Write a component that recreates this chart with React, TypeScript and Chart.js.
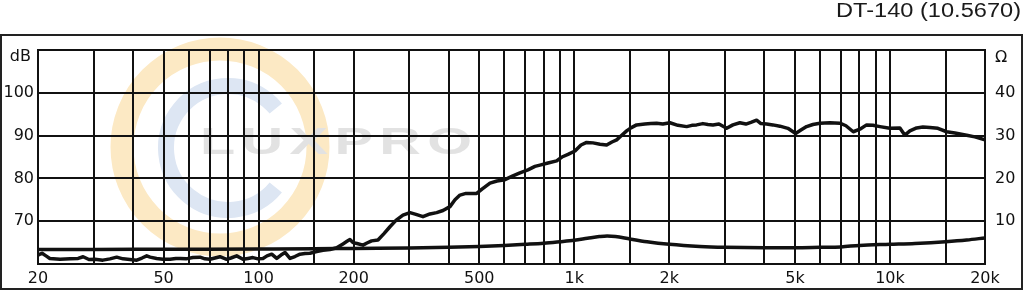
import React, { useEffect, useRef } from "react";
import { Chart, registerables } from "chart.js";

Chart.register(...registerables);

const TITLE = "DT-140 (10.5670)";
const LEFT_UNIT = "dB";
const RIGHT_UNIT = "Ω";
const WATERMARK = "LUXPRO";

const freqGrid = [20, 30, 40, 50, 60, 70, 80, 90, 100, 150, 200, 300, 400, 500, 600, 700, 800, 900, 1000, 1500, 2000, 3000, 4000, 5000, 6000, 7000, 8000, 9000, 10000, 15000, 20000];
const xTickValues = [20, 50, 100, 200, 500, 1000, 2000, 5000, 10000, 20000];
const xTickLabels = ["20", "50", "100", "200", "500", "1k", "2k", "5k", "10k", "20k"];
const dbTickValues = [70, 80, 90, 100];
const ohmTickValues = [10, 20, 30, 40];

const splFreq = [20, 20.3, 20.6, 21.2, 21.8, 23.5, 25.3, 26.8, 27.8, 29.0,
  30.3, 32.1, 33.8, 35.5, 37.2, 39.1, 41.1, 42.7, 44.2, 45.3,
  47.5, 49.8, 52.4, 54.7, 56.4, 58.9, 61.9, 65.2, 67.6, 70.1,
  72.7, 75.4, 79.2, 81.7, 85.2, 89.2, 92.5, 95.9, 99.5, 103.2,
  106.3, 110, 114.1, 117.7, 121.2, 125.7, 130.3, 135.2, 140.2, 145.4,
  152.7, 159.9, 168.3, 176.7, 185, 190.5, 194.6, 199, 204.9, 214,
  220.4, 228, 238.8, 249.5, 260.6, 272.3, 286.5, 301.6, 315.1, 331.6,
  348.9, 366.4, 383.7, 403.7, 418.8, 434.3, 453.8, 474.1, 490.6, 509.9,
  540.6, 568.9, 602.8, 639.1, 672.7, 713.1, 750.5, 778.4, 825.2, 879.3,
  913.9, 955, 1005, 1050, 1094, 1146, 1206, 1266, 1316, 1362,
  1405, 1465, 1511, 1575, 1673, 1748, 1823, 1908, 2009, 2129,
  2269, 2358, 2440, 2555, 2650, 2749, 2872, 3038, 3180, 3346,
  3496, 3626, 3780, 3901, 4066, 4257, 4480, 4750, 5024, 5222,
  5443, 5700, 5999, 6453, 6942, 7253, 7649, 8031, 8432, 8829,
  9292, 9987, 10750, 11150, 11565, 12143, 12715, 13380, 14185, 15120,
  16058, 17494, 18580, 20000];

const splDb = [62.1, 62.3, 62.5, 61.9, 61.3, 61.1, 61.2, 61.3, 61.7, 61.05,
  61.1, 60.9, 61.2, 61.6, 61.2, 61.05, 60.9, 61.4, 61.9, 61.6,
  61.3, 61.1, 61.1, 61.3, 61.3, 61.2, 61.5, 61.6, 61.2, 61.1,
  61.4, 61.7, 61.1, 61.4, 61.9, 61.1, 61.3, 61.5, 61.2, 61.3,
  61.9, 62.3, 61.3, 62.1, 62.7, 61.3, 61.75, 62.3, 62.45, 62.5,
  62.9, 63.2, 63.4, 63.8, 64.7, 65.3, 65.7, 65.0, 64.8, 64.4,
  64.9, 65.4, 65.6, 67.1, 68.7, 70.2, 71.4, 72.0, 71.6, 71.05,
  71.7, 72.0, 72.5, 73.4, 75.0, 76.1, 76.5, 76.5, 76.5, 77.5,
  78.9, 79.4, 79.7, 80.6, 81.3, 82.0, 82.8, 83.1, 83.6, 84.1,
  85.0, 85.6, 86.4, 87.8, 88.4, 88.3, 88.0, 87.8, 88.5, 89.0,
  89.9, 91.1, 91.8, 92.5, 92.7, 92.8, 92.9, 92.7, 93.0, 92.4,
  92.1, 92.4, 92.5, 92.8, 92.6, 92.5, 92.7, 91.7, 92.5, 93.0,
  92.7, 93.1, 93.6, 92.8, 92.7, 92.5, 92.2, 91.7, 90.5, 91.3,
  92.1, 92.6, 92.9, 93.0, 92.9, 92.3, 90.9, 91.5, 92.5, 92.4,
  92.1, 91.7, 91.8, 90.1, 91.1, 91.8, 92.0, 91.9, 91.7, 90.9,
  90.6, 90.1, 89.7, 89.0];

const impFreq = [20, 30, 50, 100, 150, 200, 300, 400, 500, 600, 700, 800, 900, 1000, 1100, 1200, 1270, 1350, 1500, 1700, 2000, 2500, 3000, 4000, 5000, 6000, 7000, 8000, 10000, 12000, 15000, 17500, 20000];
const impOhm = [3.4, 3.4, 3.45, 3.5, 3.55, 3.65, 3.75, 3.9, 4.1, 4.35, 4.6, 4.85, 5.2, 5.55, 6.0, 6.4, 6.55, 6.45, 5.85, 5.2, 4.6, 4.1, 3.9, 3.8, 3.8, 3.9, 4.0, 4.35, 4.6, 4.8, 5.2, 5.6, 6.1];

const INK = "#111";
const TICK_FONT = { family: "'DejaVu Sans', Verdana, sans-serif", size: 16 };

const watermarkPlugin = {
  id: "watermark",
  beforeDraw(chart: any) {
    const ctx = chart.ctx as CanvasRenderingContext2D;
    ctx.save();
    ctx.strokeStyle = "#fce9c4";
    ctx.lineWidth = 23;
    ctx.beginPath();
    ctx.arc(220, 147, 98, 0, Math.PI * 2);
    ctx.stroke();
    ctx.strokeStyle = "#dde6f3";
    ctx.lineWidth = 16;
    ctx.beginPath();
    ctx.arc(228, 148, 62, 0.22 * Math.PI, 1.78 * Math.PI);
    ctx.stroke();
    ctx.font = "bold 36px 'Liberation Sans', Arial, sans-serif";
    (ctx as any).letterSpacing = "4px";
    ctx.textBaseline = "middle";
    ctx.textAlign = "left";
    ctx.translate(200, 144);
    ctx.scale(1.6, 1);
    ctx.fillStyle = "#e2e2e2";
    ctx.fillText(WATERMARK, 0, 0);
    ctx.restore();
  },
};

const decorPlugin = {
  id: "decor",
  afterDraw(chart: any) {
    const ctx = chart.ctx as CanvasRenderingContext2D;
    ctx.save();
    ctx.strokeStyle = "#222";
    ctx.lineWidth = 2;
    ctx.strokeRect(1, 35, 1021, 254);

    ctx.fillStyle = INK;
    ctx.font = "16px 'DejaVu Sans', Verdana, sans-serif";
    ctx.textBaseline = "middle";
    ctx.textAlign = "right";
    ctx.fillText(LEFT_UNIT, 31, 57);
    ctx.textAlign = "left";
    ctx.fillText(RIGHT_UNIT, 995, 58);

    ctx.font = "20px 'Liberation Sans', Arial, sans-serif";
    ctx.fillStyle = "#1a1a1a";
    ctx.textBaseline = "alphabetic";
    ctx.textAlign = "right";
    const w = ctx.measureText(TITLE).width;
    ctx.translate(1021, 17);
    ctx.scale(185 / w, 1);
    ctx.fillText(TITLE, 0, 0);
    ctx.restore();
  },
};

export default function App() {
  const ref = useRef<HTMLCanvasElement | null>(null);

  useEffect(() => {
    document.body.style.margin = "0";
    const canvas = ref.current;
    if (!canvas) return;
    const chart = new Chart(canvas, {
      type: "line",
      data: {
        datasets: [
          {
            label: "SPL",
            data: splFreq.map((f, i) => ({ x: f, y: splDb[i] })),
            yAxisID: "y",
            borderColor: INK,
            borderWidth: 3.5,
            pointRadius: 0,
            tension: 0,
            borderJoinStyle: "round",
            borderCapStyle: "round",
          },
          {
            label: "Impedance",
            data: impFreq.map((f, i) => ({ x: f, y: impOhm[i] })),
            yAxisID: "y2",
            borderColor: INK,
            borderWidth: 3.5,
            pointRadius: 0,
            tension: 0.3,
            cubicInterpolationMode: "monotone",
            borderJoinStyle: "round",
            borderCapStyle: "round",
          },
        ],
      } as any,
      plugins: [watermarkPlugin, decorPlugin],
      options: {
        responsive: false,
        animation: false,
        devicePixelRatio: 1,
        layout: { padding: { left: 0, right: 0, top: 50, bottom: 0 } },
        plugins: { legend: { display: false }, tooltip: { enabled: false }, title: { display: false } },
        scales: {
          x: {
            type: "logarithmic",
            min: 20,
            max: 20000,
            afterBuildTicks: (s: any) => {
              s.ticks = freqGrid.map((v) => ({ value: v }));
            },
            afterFit: (s: any) => {
              s.height = 28;
            },
            ticks: {
              autoSkip: false,
              maxRotation: 0,
              minRotation: 0,
              padding: 5,
              color: INK,
              font: TICK_FONT,
              callback: (v: any) => {
                const i = xTickValues.indexOf(Number(v));
                return i >= 0 ? xTickLabels[i] : "";
              },
            },
            grid: { color: INK, lineWidth: 2, drawTicks: false },
            border: { display: true, color: INK, width: 2 },
          },
          y: {
            type: "linear",
            position: "left",
            min: 60,
            max: 110,
            afterFit: (s: any) => {
              s.width = 38;
            },
            ticks: {
              stepSize: 5,
              padding: 4,
              color: INK,
              font: TICK_FONT,
              callback: (v: any) => (dbTickValues.includes(Number(v)) ? String(v) : ""),
            },
            grid: { color: INK, lineWidth: 2, drawTicks: false },
            border: { display: true, color: INK, width: 2 },
          },
          y2: {
            type: "linear",
            position: "right",
            min: 0,
            max: 50,
            afterFit: (s: any) => {
              s.width = 39;
            },
            ticks: {
              stepSize: 5,
              padding: 10,
              color: INK,
              font: TICK_FONT,
              callback: (v: any) => (ohmTickValues.includes(Number(v)) ? String(v) : ""),
            },
            grid: { display: false, drawTicks: false },
            border: { display: true, color: INK, width: 2 },
          },
        },
      } as any,
    });
    return () => chart.destroy();
  }, []);

  return (
    <div style={{ width: 1024, height: 292, background: "#fff" }}>
      <canvas ref={ref} width={1024} height={292} style={{ display: "block", width: 1024, height: 292 }} />
    </div>
  );
}
